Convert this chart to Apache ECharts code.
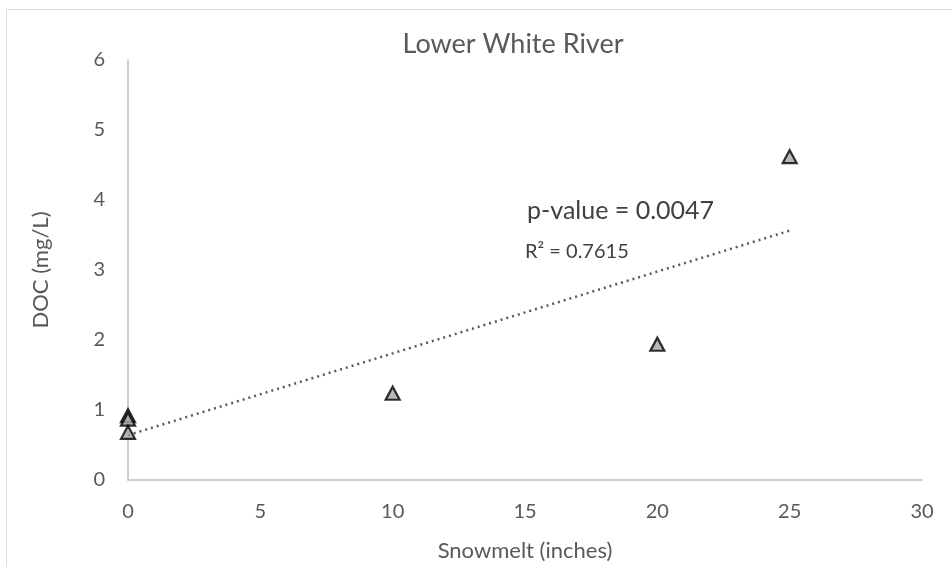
<!DOCTYPE html>
<html>
<head>
<meta charset="utf-8">
<script src="https://cdn.jsdelivr.net/npm/echarts@6/dist/echarts.min.js"></script>
<style>html,body{margin:0;padding:0;background:#fff}#c{width:952px;height:567px}</style>
</head>
<body>
<div id="c"></div>
<script>
var snowmelt = [0, 0, 0, 10, 20, 25];
var doc = [0.92, 0.87, 0.68, 1.24, 1.94, 4.62];
var xTicks = [0, 5, 10, 15, 20, 25, 30];
var yTicks = [0, 1, 2, 3, 4, 5, 6];
var titleText = 'Lower White River';
var pText = 'p-value = 0.0047';
var r2Text = 'R² = 0.7615';

// linear regression trendline from the data
var n = snowmelt.length, mx = 0, my = 0;
for (var i = 0; i < n; i++) { mx += snowmelt[i]; my += doc[i]; }
mx /= n; my /= n;
var sxy = 0, sxx = 0;
for (var i = 0; i < n; i++) { sxy += (snowmelt[i]-mx)*(doc[i]-my); sxx += (snowmelt[i]-mx)*(snowmelt[i]-mx); }
var slope = sxy / sxx, icpt = my - slope * mx;
var xMin = Math.min.apply(null, snowmelt), xMax = Math.max.apply(null, snowmelt);
var trend = [[xMin, icpt + slope * xMin], [xMax, icpt + slope * xMax]];

var pts = snowmelt.map(function (x, i) { return [x, doc[i]]; });
var font = 'Lato, "Open Sans", sans-serif';
var chart = echarts.init(document.getElementById('c'));
chart.setOption({
  animation: false,
  backgroundColor: '#fff',
  title: { text: titleText, left: 508, top: 26, textAlign: 'center',
    textStyle: { fontFamily: font, fontSize: 27, fontWeight: 'normal', color: '#595959' } },
  grid: { left: 128, right: 30, top: 60, bottom: 85 },
  xAxis: { type: 'value', min: xTicks[0], max: xTicks[xTicks.length-1], interval: 5,
    name: 'Snowmelt (inches)', nameLocation: 'middle', nameGap: 60,
    nameTextStyle: { fontFamily: font, fontSize: 22, color: '#595959' },
    axisLine: { show: true, lineStyle: { color: '#bfbfbf', width: 1.5 } },
    axisTick: { show: false }, splitLine: { show: false },
    axisLabel: { fontFamily: font, fontSize: 20, color: '#595959', margin: 22 } },
  yAxis: { type: 'value', min: yTicks[0], max: yTicks[yTicks.length-1], interval: 1,
    name: 'DOC (mg/L)', nameLocation: 'middle', nameGap: 76, nameRotate: 90,
    nameTextStyle: { fontFamily: font, fontSize: 22, color: '#595959' },
    axisLine: { show: true, lineStyle: { color: '#bfbfbf', width: 1.5 } },
    axisTick: { show: false }, splitLine: { show: false },
    axisLabel: { fontFamily: font, fontSize: 20, color: '#595959', margin: 23 } },
  graphic: [
    { type: 'rect', shape: { x: 6.5, y: 9.5, width: 960, height: 580 },
      style: { fill: null, stroke: '#d9d9d9', lineWidth: 1 }, silent: true },
    { type: 'text', left: 527, top: 198, style: { text: pText, font: '25px ' + font, fill: '#404040' } },
    { type: 'text', left: 525, top: 242, style: { text: r2Text, font: '20px ' + font, fill: '#404040' } }
  ],
  series: [
    { type: 'line', data: trend, showSymbol: false, symbol: 'none', z: 1,
      lineStyle: { color: '#595959', width: 2.5, type: [2, 4] } },
    { type: 'scatter', data: pts, symbol: 'triangle', symbolSize: [14, 13], z: 3,
      itemStyle: { color: '#a6a6a6', borderColor: '#000', borderWidth: 2.2 } }
  ]
});
</script>
</body>
</html>
